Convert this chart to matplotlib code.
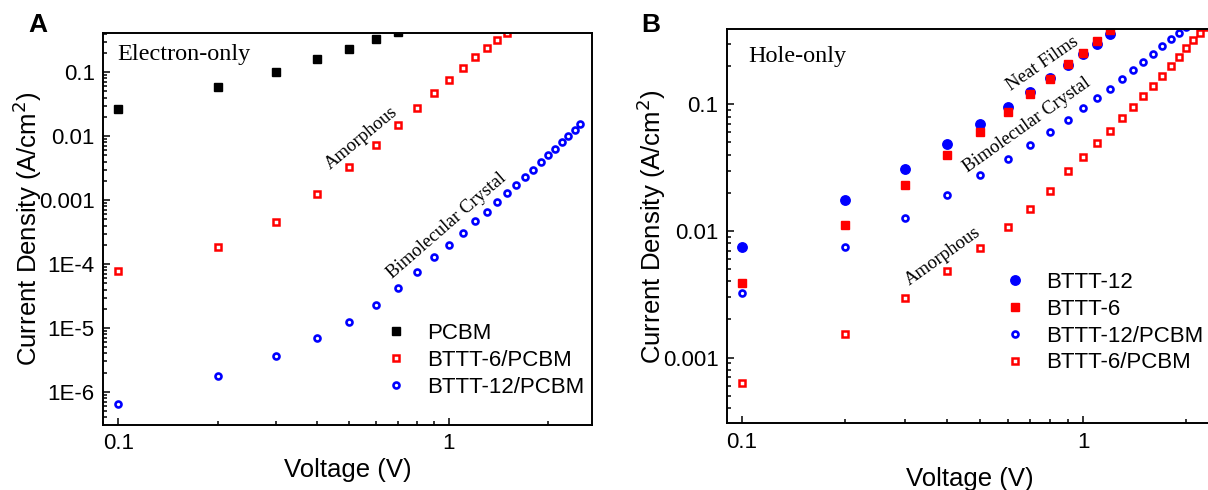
import numpy as np
import matplotlib
matplotlib.use('Agg')
import matplotlib.pyplot as plt
from matplotlib.ticker import LogLocator, FixedFormatter, FixedLocator, NullFormatter

############################### DATA ##########################################

# panel A : electron-only devices
volt_a_pcbm = [0.1, 0.2, 0.3, 0.4, 0.5, 0.6, 0.7]
j_a_pcbm    = [0.0264, 0.0583, 0.100, 0.160, 0.234, 0.331, 0.43]

volt_a_b6   = [0.1, 0.2, 0.3, 0.4, 0.5, 0.6, 0.7, 0.8, 0.9, 1.0,
               1.1, 1.2, 1.3, 1.4, 1.5]
j_a_b6      = [7.8e-5, 1.86e-4, 4.47e-4, 1.24e-3, 3.24e-3, 7.3e-3, 0.0150,
               0.0277, 0.0475, 0.0758, 0.115, 0.171, 0.237, 0.320, 0.416]

volt_a_b12  = [0.1, 0.2, 0.3, 0.4, 0.5, 0.6, 0.7, 0.8, 0.9, 1.0,
               1.1, 1.2, 1.3, 1.4, 1.5, 1.6, 1.7, 1.8, 1.9, 2.0,
               2.1, 2.2, 2.3, 2.4, 2.5]
j_a_b12     = [6.46e-7, 1.78e-6, 3.65e-6, 6.98e-6, 1.26e-5, 2.31e-5, 4.17e-5,
               7.4e-5, 1.27e-4, 2.0e-4, 3.05e-4, 4.63e-4, 6.6e-4, 9.3e-4,
               1.29e-3, 1.73e-3, 2.31e-3, 2.92e-3, 3.88e-3, 5.0e-3, 6.4e-3,
               8.05e-3, 0.0101, 0.0126, 0.0154]

# panel B : hole-only devices
volt_b_b12  = [0.1, 0.2, 0.3, 0.4, 0.5, 0.6, 0.7, 0.8, 0.9, 1.0, 1.1, 1.2, 1.3]
j_b_b12     = [7.52e-3, 0.0176, 0.0310, 0.0483, 0.0700, 0.0952, 0.1257,
               0.162, 0.203, 0.248, 0.299, 0.359, 0.44]

volt_b_b6   = [0.1, 0.2, 0.3, 0.4, 0.5, 0.6, 0.7, 0.8, 0.9, 1.0, 1.1, 1.2]
j_b_b6      = [3.91e-3, 0.0111, 0.0231, 0.0398, 0.0608, 0.0875, 0.1206,
               0.158, 0.208, 0.255, 0.318, 0.386]

volt_b_b12p = [0.1, 0.2, 0.3, 0.4, 0.5, 0.6, 0.7, 0.8, 0.9, 1.0,
               1.1, 1.2, 1.3, 1.4, 1.5, 1.6, 1.7, 1.8, 1.9, 2.0]
j_b_b12p    = [3.22e-3, 7.43e-3, 0.0126, 0.0191, 0.0275, 0.0368, 0.0477,
               0.0604, 0.0751, 0.093, 0.1115, 0.133, 0.157, 0.185, 0.216,
               0.250, 0.288, 0.326, 0.367, 0.405]

volt_b_b6p  = [0.1, 0.2, 0.3, 0.4, 0.5, 0.6, 0.7, 0.8, 0.9, 1.0,
               1.1, 1.2, 1.3, 1.4, 1.5, 1.6, 1.7, 1.8, 1.9, 2.0,
               2.1, 2.2, 2.3]
j_b_b6p     = [6.35e-4, 1.55e-3, 2.94e-3, 4.83e-3, 7.38e-3, 0.0107, 0.0150,
               0.0206, 0.0299, 0.0386, 0.0492, 0.0620, 0.0776, 0.0946,
               0.1163, 0.139, 0.168, 0.200, 0.238, 0.277, 0.322, 0.367, 0.41]

ytick_a   = [1e-6, 1e-5, 1e-4, 1e-3, 1e-2, 1e-1]
ylabels_a = ['1E-6', '1E-5', '1E-4', '0.001', '0.01', '0.1']
ytick_b   = [1e-3, 1e-2, 1e-1]
ylabels_b = ['0.001', '0.01', '0.1']
xtick     = [0.1, 1]
xlabels   = ['0.1', '1']

############################### STYLE #########################################

plt.rcParams['font.family'] = ['Liberation Sans', 'DejaVu Sans']
serif = ['Liberation Serif', 'DejaVu Serif']
BLUE = '#0000ff'
RED = '#ff0000'

fig = plt.figure(figsize=(12.08, 4.9), dpi=100)
axA = fig.add_axes([0.0853, 0.1327, 0.4048, 0.8000])
axB = fig.add_axes([0.6016, 0.1361, 0.4017, 0.8047])


def style_axes(ax, yt, ylab, xlim, ylim):
    ax.set_xscale('log')
    ax.set_yscale('log')
    ax.set_xlim(*xlim)
    ax.set_ylim(*ylim)
    ax.xaxis.set_major_locator(FixedLocator(xtick))
    ax.xaxis.set_major_formatter(FixedFormatter(xlabels))
    ax.xaxis.set_minor_locator(LogLocator(base=10, subs=np.arange(2, 10)))
    ax.xaxis.set_minor_formatter(NullFormatter())
    ax.yaxis.set_major_locator(FixedLocator(yt))
    ax.yaxis.set_major_formatter(FixedFormatter(ylab))
    ax.yaxis.set_minor_locator(LogLocator(base=10, subs=np.arange(2, 10), numticks=20))
    ax.yaxis.set_minor_formatter(NullFormatter())
    ax.tick_params(which='both', direction='in', top=False, right=False, width=1.1)
    ax.tick_params(which='major', length=5, labelsize=16, pad=6)
    ax.tick_params(which='minor', length=3)
    for s in ax.spines.values():
        s.set_linewidth(1.4)
    ax.set_xlabel('Voltage (V)', fontsize=18.5)
    ax.set_ylabel('Current Density (A/cm$^2$)', fontsize=18.5)


############################### PANEL A #######################################

axA.plot(volt_a_pcbm, j_a_pcbm, ls='none', marker='s', ms=6, color='black',
         label='PCBM')
axA.plot(volt_a_b6, j_a_b6, ls='none', marker='s', ms=4.0, mew=1.8, mfc='white',
         mec=RED, label='BTTT-6/PCBM')
axA.plot(volt_a_b12, j_a_b12, ls='none', marker='o', ms=4.3, mew=1.9, mfc='white',
         mec=BLUE, label='BTTT-12/PCBM')
style_axes(axA, ytick_a, ylabels_a, (0.0899, 2.71), (3.05e-7, 0.41))
axA.xaxis.set_label_coords(0.5, -0.085)
axA.yaxis.set_label_coords(-0.12, 0.5)

axA.text(0.029, 0.944, 'Electron-only', transform=axA.transAxes, ha='left',
         va='center', fontsize=17.5, family=serif)
axA.text(0.542, 0.0094, 'Amorphous', rotation=39.7, rotation_mode='anchor',
         ha='center', va='center', fontsize=13.5, family=serif)
axA.text(0.984, 4.0e-4, 'Bimolecular Crystal', rotation=41, rotation_mode='anchor',
         ha='center', va='center', fontsize=13.5, family=serif)

legA = axA.legend(loc='upper left', bbox_to_anchor=(385 / 1208, 1 - 323 / 490),
                  bbox_transform=fig.transFigure, frameon=False, fontsize=16,
                  handlelength=1.0, handletextpad=0.9, labelspacing=0.26,
                  borderpad=0, borderaxespad=0)

############################### PANEL B #######################################

axB.plot(volt_b_b12, j_b_b12, ls='none', marker='o', ms=6.8, color=BLUE,
         label='BTTT-12')
axB.plot(volt_b_b6, j_b_b6, ls='none', marker='s', ms=5.8, color=RED,
         label='BTTT-6')
axB.plot(volt_b_b12p, j_b_b12p, ls='none', marker='o', ms=4.3, mew=1.9,
         mfc='white', mec=BLUE, label='BTTT-12/PCBM')
axB.plot(volt_b_b6p, j_b_b6p, ls='none', marker='s', ms=4.0, mew=1.8,
         mfc='white', mec=RED, label='BTTT-6/PCBM')
style_axes(axB, ytick_b, ylabels_b, (0.0904, 2.38), (3.03e-4, 0.393))
axB.xaxis.set_label_coords(0.5, -0.11)
axB.yaxis.set_label_coords(-0.122, 0.5)

axB.text(0.044, 0.93, 'Hole-only', transform=axB.transAxes, ha='left',
         va='center', fontsize=17.5, family=serif)
axB.text(0.759, 0.208, 'Neat Films', rotation=34.6, rotation_mode='anchor',
         ha='center', va='center', fontsize=13.5, family=serif)
axB.text(0.682, 0.0687, 'Bimolecular Crystal', rotation=35.4, rotation_mode='anchor',
         ha='center', va='center', fontsize=13.5, family=serif)
axB.text(0.388, 6.35e-3, 'Amorphous', rotation=35.6, rotation_mode='anchor',
         ha='center', va='center', fontsize=13.5, family=serif)

legB = axB.legend(loc='upper left', bbox_to_anchor=(1004 / 1208, 1 - 272 / 490),
                  bbox_transform=fig.transFigure, frameon=False, fontsize=16,
                  handlelength=1.0, handletextpad=0.9, labelspacing=0.26,
                  borderpad=0, borderaxespad=0)

############################### LABELS ########################################

fig.text(38 / 1208, 1 - 25 / 490, 'A', fontsize=19, fontweight='bold',
         ha='center', va='center')
fig.text(651 / 1208, 1 - 25 / 490, 'B', fontsize=19, fontweight='bold',
         ha='center', va='center')

fig.savefig('out.png', dpi=100)
